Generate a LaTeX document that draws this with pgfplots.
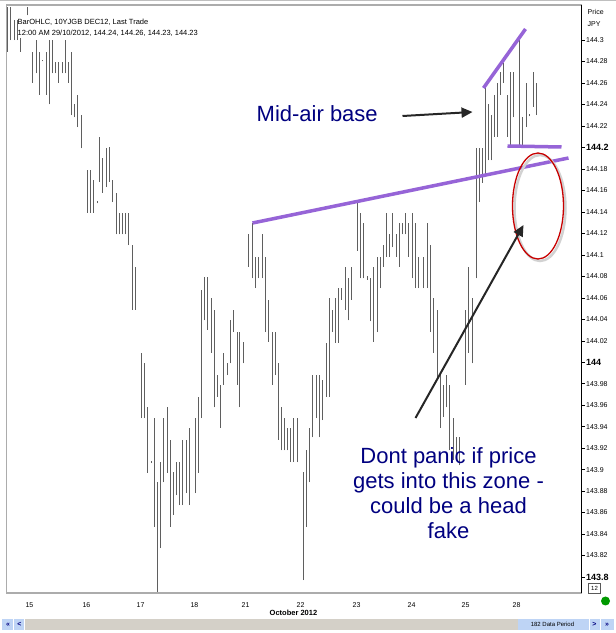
\documentclass[border=0pt]{standalone}
\usepackage{fontspec}
\setmainfont{Liberation Sans}
\usepackage{pgfplots}
\pgfplotsset{compat=1.18}
\usepackage{pgfplotstable}
\usetikzlibrary{arrows.meta}
\definecolor{purp}{RGB}{150,100,215}
\definecolor{navy}{RGB}{0,0,128}
\definecolor{barc}{RGB}{95,95,95}
\definecolor{scroll}{RGB}{212,208,200}
\definecolor{btn}{RGB}{190,212,245}
\definecolor{redc}{RGB}{200,0,0}
\newcommand\bl[1]{{\fontsize{9}{10}\selectfont\bfseries #1}}
\pgfplotstableread{
x hi lo
7 144.331 144.289
10 144.331 144.300
14 144.319 144.300
17 144.319 144.300
20 144.302 144.289
27 144.331 144.323
32 144.289 144.260
36 144.300 144.269
39 144.289 144.249
42 144.281 144.280
46 144.289 144.249
49 144.300 144.240
52 144.300 144.269
55 144.280 144.269
58 144.280 144.260
62 144.280 144.269
65 144.300 144.269
68 144.280 144.260
71 144.289 144.230
74 144.240 144.228
77 144.249 144.219
81 144.230 144.199
87 144.179 144.139
90 144.179 144.139
93 144.170 144.139
97 144.150 144.148
99 144.210 144.168
102 144.190 144.158
106 144.199 144.163
109 144.200 144.168
112 144.170 144.149
116 144.158 144.119
119 144.139 144.119
122 144.139 144.119
125 144.139 144.119
128 144.139 144.109
132 144.109 144.049
135 144.089 144.049
141 144.009 143.948
144 143.999 143.948
147 143.958 143.897
151 143.908 143.906
154 143.948 143.847
157 143.888 143.786
160 143.907 143.827
163 143.948 143.888
167 143.958 143.897
170 143.928 143.847
173 143.898 143.858
176 143.907 143.876
179 143.907 143.867
182 143.928 143.867
186 143.928 143.878
189 143.939 143.867
195 143.948 143.878
198 143.968 143.897
201 144.067 143.948
204 144.079 144.039
207 144.079 144.030
211 144.060 144.009
214 144.049 143.958
217 143.988 143.968
220 143.979 143.939
223 144.009 143.979
227 143.999 143.988
230 144.039 143.999
233 144.049 144.028
237 144.028 143.979
239 144.028 143.958
243 144.019 143.999
248 144.119 144.089
252 144.130 144.078
255 144.098 144.069
258 144.098 144.078
262 144.119 144.078
265 144.098 144.028
268 144.058 144.019
272 144.028 143.979
275 144.028 143.988
278 143.999 143.928
281 143.958 143.918
284 143.948 143.918
287 143.939 143.918
290 143.939 143.907
293 143.948 143.907
297 143.948 143.907
303 143.898 143.797
306 143.918 143.847
309 143.939 143.888
312 143.988 143.930
316 143.988 143.948
319 143.988 143.930
322 143.983 143.946
326 144.018 143.968
329 144.060 143.968
332 144.049 144.028
335 144.060 144.018
338 144.069 144.018
341 144.069 144.058
345 144.089 144.049
348 144.078 144.039
351 144.089 144.058
357 144.148 144.104
360 144.139 144.078
363 144.130 144.078
367 144.080 144.077
370 144.078 144.038
373 144.089 144.019
377 144.098 144.028
380 144.098 144.069
383 144.109 144.089
386 144.139 144.098
389 144.119 144.098
392 144.139 144.107
396 144.119 144.098
399 144.130 144.089
402 144.130 144.119
405 144.139 144.119
408 144.130 144.098
412 144.139 144.078
415 144.130 144.069
418 144.098 144.069
423 144.098 144.069
427 144.130 144.069
430 144.109 144.028
433 144.060 144.009
437 144.049 143.983
440 143.988 143.939
443 143.979 143.949
446 143.988 143.958
449 143.979 143.918
453 143.948 143.909
456 143.930 143.909
459 143.930 143.904
465 144.049 143.979
468 144.089 144.009
472 144.060 143.999
476 144.199 144.078
479 144.199 144.149
482 144.199 144.167
485 144.256 144.174
488 144.240 144.188
491 144.230 144.188
494 144.249 144.210
497 144.260 144.210
500 144.270 144.249
503 144.279 144.260
507 144.249 144.210
510 144.270 144.202
513 144.270 144.228
519 144.300 144.200
522 144.228 144.202
526 144.260 144.219
529 144.231 144.229
533 144.270 144.238
536 144.260 144.230
}\bars
\begin{document}
\begin{tikzpicture}[x=1pt,y=1pt]
\fill[white] (0,0) rectangle (615,633);
\draw[gray!50, line width=1pt] (0,632.5) -- (615,632.5);
\begin{axis}[
  at={(6pt,40pt)}, anchor=south west, scale only axis,
  width=575pt, height=588pt,
  xmin=6, xmax=581, ymin=143.7851, ymax=144.3326,
  axis line style={draw=gray!65, line width=1.2pt},
  ytick pos=right, yticklabel pos=right, tick align=outside,
  major tick length=3pt,
  ytick style={black, line width=0.4pt},
  ytick={143.8,143.82,143.84,143.86,143.88,143.9,143.92,143.94,143.96,143.98,144,144.02,144.04,144.06,144.08,144.1,144.12,144.14,144.16,144.18,144.2,144.22,144.24,144.26,144.28,144.3},
  yticklabels={\bl{143.8},143.82,143.84,143.86,143.88,143.9,143.92,143.94,143.96,143.98,\bl{144},144.02,144.04,144.06,144.08,144.1,144.12,144.14,144.16,144.18,\bl{144.2},144.22,144.24,144.26,144.28,144.3},
  yticklabel style={font=\fontsize{7}{8}\selectfont, inner sep=1.5pt},
  xtick={29,86,140,194,245,300,356,411,465,516},
  xticklabels={15,16,17,18,21,22,23,24,25,28},
  xtick style={draw=none},
  xticklabel style={font=\fontsize{7}{8}\selectfont, yshift=-3pt},
  /pgf/number format/assume math mode=true,
  clip=true,
]
\addplot[draw=none, mark=none, forget plot,
  error bars/.cd, y dir=plus, y explicit, error mark=none,
  error bar style={draw=barc, line width=1.1pt}]
  table[x=x, y=lo, y error plus expr=\thisrow{hi}-\thisrow{lo}] {\bars};
\end{axis}
% right axis line
\draw[black, line width=0.6pt] (581,40) -- (581,628);
% header text
\node[anchor=base west, inner sep=0pt, font=\fontsize{7.5}{9}\selectfont] at (17,608) {BarOHLC, 10YJGB DEC12, Last Trade};
\node[anchor=base west, inner sep=0pt, font=\fontsize{7.5}{9}\selectfont] at (17,597) {12:00 AM 29/10/2012, 144.24, 144.26, 144.23, 144.23};
\node[anchor=base west, inner sep=0pt, font=\fontsize{7}{8}\selectfont] at (587,618) {Price};
\node[anchor=base west, inner sep=0pt, font=\fontsize{7}{8}\selectfont] at (587,606) {JPY};
% x label
\node[font=\fontsize{7.5}{9}\selectfont\bfseries] at (293,20) {October 2012};
% purple lines
\draw[purp, line width=3.5pt] (252,410) -- (568,475);
\draw[purp, line width=3.5pt] (483,545) -- (525,604);
\draw[purp, line width=3.5pt] (507,487) -- (561,486);
% ellipse
\draw[gray!35, line width=2.5pt] (539.5,425) ellipse [x radius=25.5, y radius=53];
\draw[redc, line width=1.3pt] (537.5,427) ellipse [x radius=25.5, y radius=53];
% arrows
\draw[black!85, line width=2pt, -{Triangle[length=11pt,width=10pt]}] (402,517) -- (472,521);
\draw[black!85, line width=2pt, -{Triangle[length=11pt,width=10pt]}] (415,215) -- (523,408);
% texts
\node[anchor=base west, inner sep=0pt, text=navy, font=\fontsize{22}{24}\selectfont] at (256,511) {Mid-air base};
\node[anchor=base, inner sep=0pt, text=navy, font=\fontsize{22}{24}\selectfont] at (448,169) {Dont panic if price};
\node[anchor=base, inner sep=0pt, text=navy, font=\fontsize{22}{24}\selectfont] at (448,144) {gets into this zone -};
\node[anchor=base, inner sep=0pt, text=navy, font=\fontsize{22}{24}\selectfont] at (448,119) {could be a head};
\node[anchor=base, inner sep=0pt, text=navy, font=\fontsize{22}{24}\selectfont] at (448,94) {fake};
% bottom widgets
\fill[green!60!black] (605,32) circle (4.5);
\draw[gray!70!black, line width=0.5pt] (588,40) rectangle (600,50);
\node[font=\fontsize{6}{7}\selectfont] at (594,45) {12};
\fill[scroll] (25,3) rectangle (517,14);
\fill[btn] (2,3) rectangle (13,14);
\fill[btn] (14,3) rectangle (24,14);
\node[font=\fontsize{7}{8}\selectfont\bfseries, text=navy] at (7.5,8.5) {«};
\node[font=\fontsize{7}{8}\selectfont\bfseries, text=navy] at (19,8.5) {<};
\fill[btn] (517,3) rectangle (588,14);
\node[font=\fontsize{6}{7}\selectfont] at (552,8.5) {182 Data Period};
\fill[btn] (589,3) rectangle (599,14);
\fill[btn] (600,3) rectangle (613,14);
\node[font=\fontsize{7}{8}\selectfont\bfseries, text=navy] at (594,8.5) {>};
\node[font=\fontsize{7}{8}\selectfont\bfseries, text=navy] at (606.5,8.5) {»};
\end{tikzpicture}
\end{document}
